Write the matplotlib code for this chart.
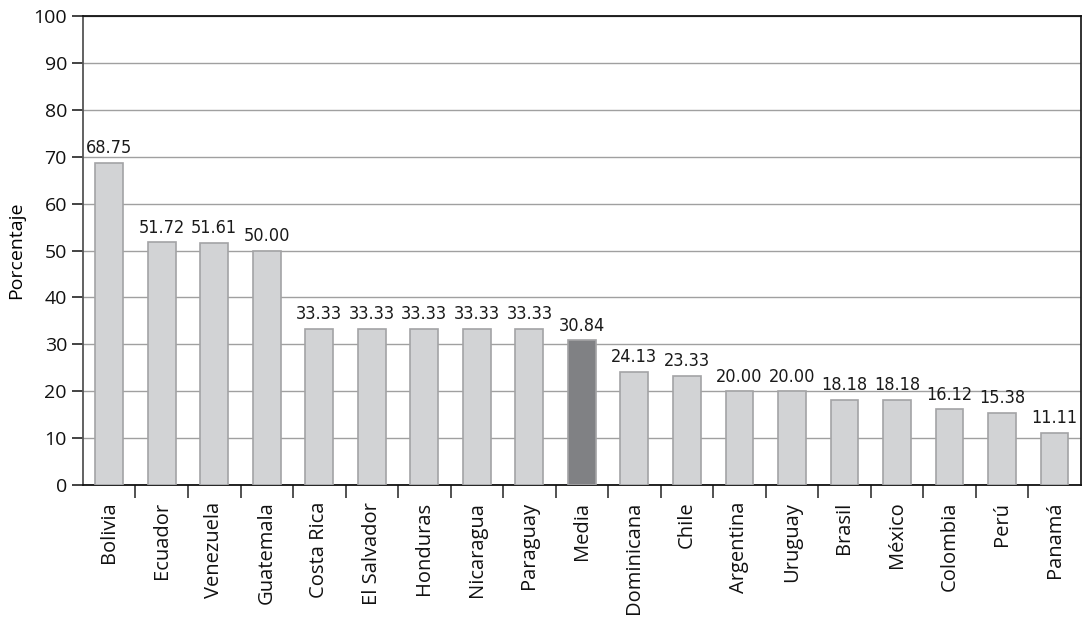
import numpy as np
import matplotlib.pyplot as plt
from matplotlib.ticker import FixedLocator

paises = ["Bolivia", "Ecuador", "Venezuela", "Guatemala", "Costa Rica",
          "El Salvador", "Honduras", "Nicaragua", "Paraguay", "Media",
          "Dominicana", "Chile", "Argentina", "Uruguay", "Brasil",
          "México", "Colombia", "Perú", "Panamá"]
valores = [68.75, 51.72, 51.61, 50.00, 33.33, 33.33, 33.33, 33.33, 33.33,
           30.84, 24.13, 23.33, 20.00, 20.00, 18.18, 18.18, 16.12, 15.38, 11.11]

plt.rcParams['font.family'] = ['Open Sans', 'DejaVu Sans']

fig = plt.figure(figsize=(10.83, 6.18), dpi=100)
ax = fig.add_axes([0.0766, 0.2152, 0.9214, 0.7588])

x = np.arange(len(paises))
colores = ['#808184' if p == "Media" else '#d2d3d5' for p in paises]
ax.bar(x, valores, width=0.53, color=colores, edgecolor='#a3a3a5',
       linewidth=1.2, zorder=3)

# etiquetas de valor (fuente condensada)
for xi, v in zip(x, valores):
    ax.annotate(f"{v:.2f}", (xi, v), xytext=(0, 4), textcoords='offset points',
                ha='center', va='bottom', fontsize=13, color='#1a1a1a',
                family='DejaVu Sans', fontstretch='condensed')

ax.set_ylim(0, 100)
ax.set_xlim(-0.5, len(paises) - 0.5)
ax.set_yticks(np.arange(0, 101, 10))
ax.yaxis.grid(True, color='#a0a0a0', linewidth=1, zorder=0)
ax.tick_params(axis='y', labelsize=14, length=8, width=1.2, color='#222222',
               labelcolor='#111111')

ax.set_xticks(x)
ax.set_xticklabels(paises, rotation=90, fontsize=14.5, color='#111111')
ax.tick_params(axis='x', which='major', length=0, pad=12)
ax.xaxis.set_minor_locator(FixedLocator(np.arange(0.5, len(paises) - 1, 1.0)))
ax.tick_params(axis='x', which='minor', length=9, width=1.2, color='#333333')

for s in ['left', 'bottom', 'top', 'right']:
    ax.spines[s].set_color('#111111')
    ax.spines[s].set_linewidth(1.3)
ax.spines['left'].set_color('#555555')
ax.spines['right'].set_color('#222222')

ax.set_ylabel("Porcentaje", fontsize=14, labelpad=6)

plt.savefig("out.png", dpi=100)
